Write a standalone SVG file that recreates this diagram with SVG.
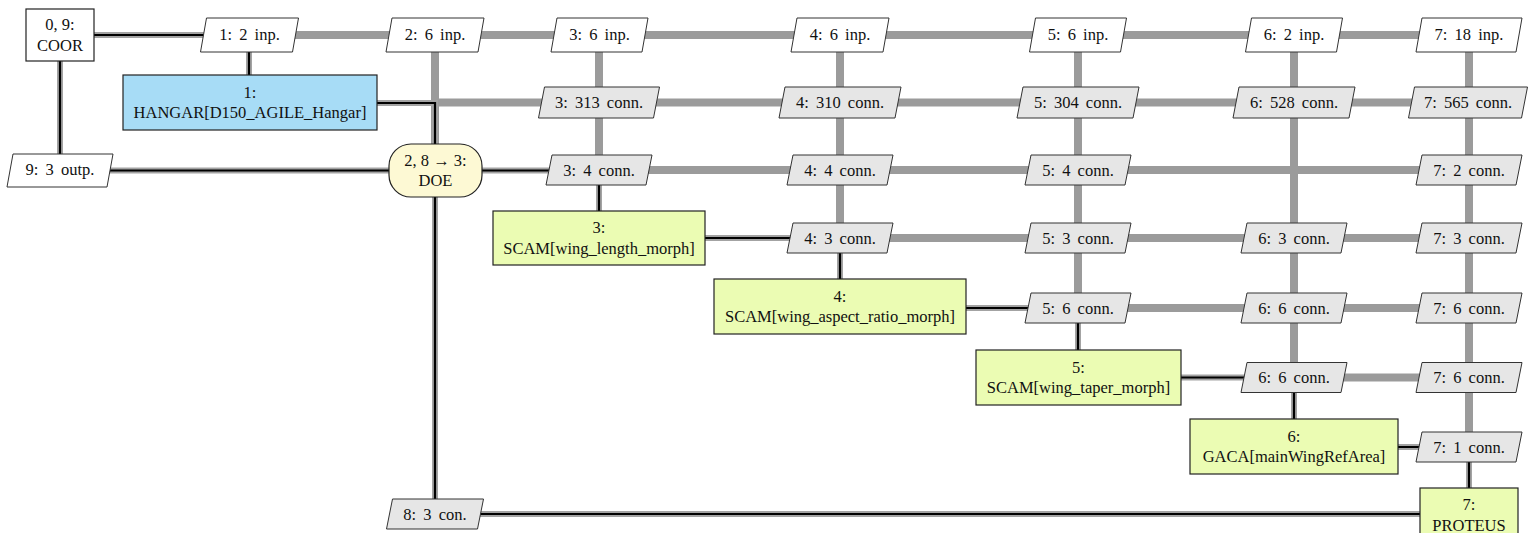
<svg xmlns="http://www.w3.org/2000/svg" width="1537" height="533" viewBox="0 0 1537 533">
<style>
text{font-family:"Liberation Serif","DejaVu Serif",serif;font-size:16.5px;fill:#111;text-anchor:middle}
.p text{word-spacing:3px}
.data{stroke:#9b9b9b;stroke-width:8;fill:none}
.pbg{stroke:#a3a3a3;stroke-width:6;fill:none}
.pfg{stroke:#000;stroke-width:2.2;fill:none}
.inp{fill:#fff;stroke:#333;stroke-width:1}
.conn{fill:#e6e6e6;stroke:#333;stroke-width:1}
.fn{fill:#ebfcb3;stroke:#222;stroke-width:1.2}
.drv{fill:#fff;stroke:#222;stroke-width:1.2}
.hang{fill:#a7dcf6;stroke:#222;stroke-width:1.2}
.doe{fill:#fdf9d4;stroke:#222;stroke-width:1.2}
</style>
<g id="connectors">
<g id="data-lines">
<path class="data" d="M249 35H1469"/>
<path class="data" d="M435 102.5H1469"/>
<path class="data" d="M599 170H1469"/>
<path class="data" d="M840 238H1469"/>
<path class="data" d="M1078 308H1469"/>
<path class="data" d="M1294 377.5H1469"/>
<path class="data" d="M435 35V170"/>
<path class="data" d="M599 35V170"/>
<path class="data" d="M840 35V238"/>
<path class="data" d="M1078 35V308"/>
<path class="data" d="M1294 35V377.5"/>
<path class="data" d="M1469 35V447"/>
</g>
<g id="process-lines">
<path class="pbg" d="M60 35H249M60 35V170M249 35V102M377 103H435V170M60 170.5H599M435 170V514H1469M599 170V238H840V308H1078V377.5H1294V447H1469V514"/>
<path class="pfg" d="M60 35H249M60 35V170M249 35V102M377 103H435V170M60 170.5H599M435 170V514H1469M599 170V238H840V308H1078V377.5H1294V447H1469V514"/>
</g>
</g>
<g id="COOR"><rect class="drv" x="26" y="9" width="68" height="52"/><text x="60" y="30">0, 9:</text><text x="60" y="50.5">COOR</text></g>
<g id="HANGAR"><rect class="hang" x="123" y="75" width="254" height="55"/><text x="250" y="97.5">1:</text><text x="250" y="118">HANGAR[D150_AGILE_Hangar]</text></g>
<g id="DOE"><rect class="doe" x="389" y="144" width="93" height="53" rx="22" ry="22"/><text x="435.5" y="165.5">2, 8 → 3:</text><text x="435.5" y="186">DOE</text></g>
<g id="SCAM_length"><rect class="fn" x="493" y="211" width="212" height="54"/><text x="599" y="233">3:</text><text x="599" y="253.5">SCAM[wing_length_morph]</text></g>
<g id="SCAM_aspect"><rect class="fn" x="714" y="279" width="252" height="55"/><text x="840" y="301.5">4:</text><text x="840" y="322">SCAM[wing_aspect_ratio_morph]</text></g>
<g id="SCAM_taper"><rect class="fn" x="976" y="350" width="205" height="55"/><text x="1078.5" y="372.5">5:</text><text x="1078.5" y="393">SCAM[wing_taper_morph]</text></g>
<g id="GACA"><rect class="fn" x="1190" y="419" width="208" height="55"/><text x="1294" y="441.5">6:</text><text x="1294" y="462">GACA[mainWingRefArea]</text></g>
<g id="PROTEUS"><rect class="fn" x="1420" y="488" width="98" height="55"/><text x="1469" y="510">7:</text><text x="1469" y="530.5">PROTEUS</text></g>
<g class="p">
<g id="in1"><polygon class="inp" points="206.5,18 298.5,18 292.5,52 200.5,52"/><text x="249.5" y="40">1: 2 inp.</text></g>
<g id="in2"><polygon class="inp" points="392,18 484,18 478,52 386,52"/><text x="435" y="40">2: 6 inp.</text></g>
<g id="in3"><polygon class="inp" points="557,18 648,18 642,52 551,52"/><text x="599.5" y="40">3: 6 inp.</text></g>
<g id="in4"><polygon class="inp" points="797,18 889,18 883,52 791,52"/><text x="840" y="40">4: 6 inp.</text></g>
<g id="in5"><polygon class="inp" points="1035.5,18 1126.5,18 1120.5,52 1029.5,52"/><text x="1078" y="40">5: 6 inp.</text></g>
<g id="in6"><polygon class="inp" points="1251.5,18 1342.5,18 1336.5,52 1245.5,52"/><text x="1294" y="40">6: 2 inp.</text></g>
<g id="in7"><polygon class="inp" points="1422,18 1522,18 1516,52 1416,52"/><text x="1469" y="40">7: 18 inp.</text></g>
<g id="c1_3"><polygon class="conn" points="544.5,87 659.5,87 653.5,118 538.5,118"/><text x="599" y="108">3: 313 conn.</text></g>
<g id="c1_4"><polygon class="conn" points="785,87 901,87 895,118 779,118"/><text x="840" y="108">4: 310 conn.</text></g>
<g id="c1_5"><polygon class="conn" points="1023,87 1139,87 1133,118 1017,118"/><text x="1078" y="108">5: 304 conn.</text></g>
<g id="c1_6"><polygon class="conn" points="1239,87 1355,87 1349,118 1233,118"/><text x="1294" y="108">6: 528 conn.</text></g>
<g id="c1_7"><polygon class="conn" points="1414.5,87 1527.5,87 1521.5,118 1408.5,118"/><text x="1468" y="108">7: 565 conn.</text></g>
<g id="out0"><polygon class="inp" points="13,154 113,154 107,187 7,187"/><text x="60" y="175">9: 3 outp.</text></g>
<g id="c2_3"><polygon class="conn" points="552,155 652,155 646,185 546,185"/><text x="599" y="175.5">3: 4 conn.</text></g>
<g id="c2_4"><polygon class="conn" points="793,155 893,155 887,185 787,185"/><text x="840" y="175.5">4: 4 conn.</text></g>
<g id="c2_5"><polygon class="conn" points="1031,155 1131,155 1125,185 1025,185"/><text x="1078" y="175.5">5: 4 conn.</text></g>
<g id="c2_7"><polygon class="conn" points="1422,155 1522,155 1516,185 1416,185"/><text x="1469" y="175.5">7: 2 conn.</text></g>
<g id="c3_4"><polygon class="conn" points="793,223 893,223 887,253 787,253"/><text x="840" y="243.5">4: 3 conn.</text></g>
<g id="c3_5"><polygon class="conn" points="1031,223 1131,223 1125,253 1025,253"/><text x="1078" y="243.5">5: 3 conn.</text></g>
<g id="c3_6"><polygon class="conn" points="1247,223 1347,223 1341,253 1241,253"/><text x="1294" y="243.5">6: 3 conn.</text></g>
<g id="c3_7"><polygon class="conn" points="1422,223 1522,223 1516,253 1416,253"/><text x="1469" y="243.5">7: 3 conn.</text></g>
<g id="c4_5"><polygon class="conn" points="1031,293 1131,293 1125,323 1025,323"/><text x="1078" y="313.5">5: 6 conn.</text></g>
<g id="c4_6"><polygon class="conn" points="1247,293 1347,293 1341,323 1241,323"/><text x="1294" y="313.5">6: 6 conn.</text></g>
<g id="c4_7"><polygon class="conn" points="1422,293 1522,293 1516,323 1416,323"/><text x="1469" y="313.5">7: 6 conn.</text></g>
<g id="c5_6"><polygon class="conn" points="1247,362.5 1347,362.5 1341,392.5 1241,392.5"/><text x="1294" y="383">6: 6 conn.</text></g>
<g id="c5_7"><polygon class="conn" points="1422,362.5 1522,362.5 1516,392.5 1416,392.5"/><text x="1469" y="383">7: 6 conn.</text></g>
<g id="c6_7"><polygon class="conn" points="1422,432 1522,432 1516,462 1416,462"/><text x="1469" y="452.5">7: 1 conn.</text></g>
<g id="c7_2"><polygon class="conn" points="392.5,499 483.5,499 477.5,529 386.5,529"/><text x="435" y="519.5">8: 3 con.</text></g>
</g>
</svg>
